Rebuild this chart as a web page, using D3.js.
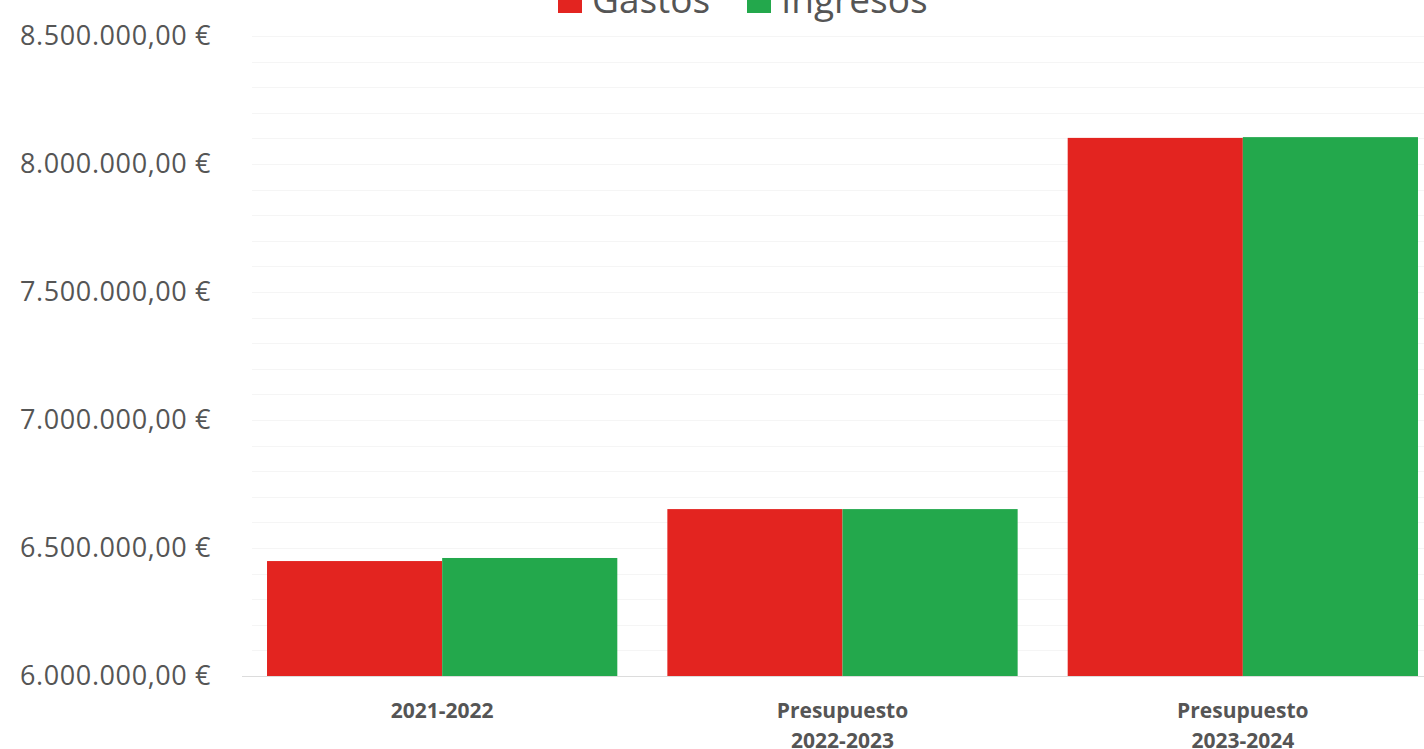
<!DOCTYPE html>
<html>
<head>
<meta charset="utf-8">
<script src="https://cdn.jsdelivr.net/npm/d3@7"></script>
<style>
  body { margin: 0; background: #fff; }
  svg { display: block; }
</style>
</head>
<body>
<svg id="chart" width="1424" height="749"></svg>
<script>
// data
var categories = [['2021-2022'], ['Presupuesto', '2022-2023'], ['Presupuesto', '2023-2024']];
var catKeys = ['2021-2022', 'Presupuesto 2022-2023', 'Presupuesto 2023-2024'];
var seriesNames = ['Gastos', 'Ingresos'];
var seriesColors = ['#e32420', '#23a84c'];
var gastos = [6449000, 6652000, 8102000];
var ingresos = [6461000, 6652000, 8105000];
var yTicks = [6000000, 6500000, 7000000, 7500000, 8000000, 8500000];

var svg = d3.select('#chart');
var width = 1424, height = 749;
// note: "top" is taken by window.top, so use plot* names
var plotLeft = 242, plotRight = 1443, plotTop = 36, plotBottom = 676;

var es = d3.formatLocale({decimal: ',', thousands: '.', grouping: [3], currency: ['', ' €']});
var fmt = es.format('$,.2f');

var x = d3.scaleBand()
    .domain(catKeys)
    .range([plotLeft, plotRight])
    .paddingInner(0.125)
    .paddingOuter(0.0625);

var xSub = d3.scaleBand()
    .domain(seriesNames)
    .range([0, x.bandwidth()]);

var y = d3.scaleLinear()
    .domain([6000000, 8500000])
    .range([plotBottom, plotTop]);

// very faint grid every 100k
var gridVals = d3.range(6100000, 8500001, 100000);
svg.append('g')
    .selectAll('line')
    .data(gridVals)
    .enter()
    .append('line')
    .attr('x1', 252)
    .attr('x2', width)
    .attr('y1', function (d) { return Math.round(y(d)) + 0.5; })
    .attr('y2', function (d) { return Math.round(y(d)) + 0.5; })
    .attr('stroke', '#f5f5f5')
    .attr('stroke-width', 1);

// bars
var rows = catKeys.map(function (k, i) {
    return {key: k, values: [gastos[i], ingresos[i]]};
});

var groups = svg.append('g')
    .selectAll('g')
    .data(rows)
    .enter()
    .append('g')
    .attr('transform', function (d) { return 'translate(' + x(d.key) + ',0)'; });

groups.selectAll('rect')
    .data(function (d) { return d.values.map(function (v, j) { return {name: seriesNames[j], v: v, c: seriesColors[j]}; }); })
    .enter()
    .append('rect')
    .attr('x', function (d) { return xSub(d.name); })
    .attr('width', xSub.bandwidth())
    .attr('y', function (d) { return y(d.v); })
    .attr('height', function (d) { return plotBottom - y(d.v); })
    .attr('fill', function (d) { return d.c; });

// baseline
svg.append('line')
    .attr('x1', plotLeft).attr('x2', width)
    .attr('y1', plotBottom + 0.5).attr('y2', plotBottom + 0.5)
    .attr('stroke', '#dcdcdc');

// y axis labels
var yAxis = svg.append('g')
    .attr('transform', 'translate(211,0)')
    .call(d3.axisLeft(y).tickValues(yTicks).tickFormat(fmt).tickSize(0).tickPadding(0));
yAxis.select('.domain').remove();
yAxis.selectAll('text')
    .attr('font-family', 'Open Sans, sans-serif')
    .attr('font-size', 27)
    .attr('letter-spacing', '0.6px')
    .attr('fill', '#555');

// x axis labels (two lines)
var xAxis = svg.append('g')
    .attr('transform', 'translate(0,' + plotBottom + ')')
    .call(d3.axisBottom(x).tickSize(0).tickFormat(''));
xAxis.select('.domain').remove();
xAxis.selectAll('.tick text').remove();
xAxis.selectAll('.tick')
    .append('text')
    .attr('fill', '#555')
    .attr('font-family', 'Open Sans, sans-serif')
    .attr('font-weight', 'bold')
    .attr('font-size', 21)
    .attr('text-anchor', 'middle')
    .selectAll('tspan')
    .data(function (d, i) { return categories[i]; })
    .enter()
    .append('tspan')
    .attr('x', 0)
    .attr('y', function (d, i) { return 42 + i * 30; })
    .text(function (d) { return d; });

// legend, cut off at the top
var legendX = [558, 747];
var legend = svg.append('g')
    .selectAll('g')
    .data(seriesNames)
    .enter()
    .append('g')
    .attr('transform', function (d, i) { return 'translate(' + legendX[i] + ',0)'; });
legend.append('rect')
    .attr('x', 0).attr('y', -10)
    .attr('width', 24).attr('height', 23)
    .attr('fill', function (d, i) { return seriesColors[i]; });
legend.append('text')
    .attr('x', 34).attr('y', 13)
    .attr('font-family', 'Open Sans, sans-serif')
    .attr('font-size', 37)
    .attr('fill', '#555')
    .text(function (d) { return d; });
</script>
</body>
</html>
